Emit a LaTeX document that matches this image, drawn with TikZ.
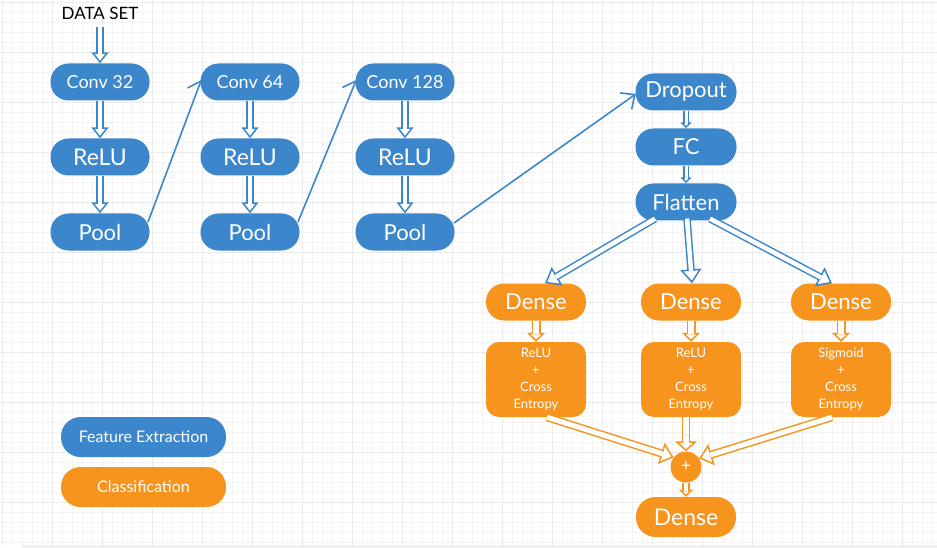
\documentclass[tikz,border=0pt]{standalone}
\usepackage{fontspec}
\setmainfont{Lato}
\usetikzlibrary{arrows.meta,calc}
\definecolor{cblue}{HTML}{3C87CB}
\definecolor{corange}{HTML}{F7941E}
\definecolor{gridc}{HTML}{F3F3F4}
\definecolor{gridd}{HTML}{EBEBEC}
% hollow arrow: color, shaft inner width, head length, head width, from, to
\newcommand\harrow[6]{%
 \draw[line width=#2, white, -{Triangle[color=#1, fill=white, line width=1.5pt, length=#3, width=#4]}] (#5) -- (#6);
 \draw[#1, line width=1.5pt, double=white, double distance=#2, shorten >=#3-1.5pt] (#5) -- (#6);
}
\begin{document}
\begin{tikzpicture}[x=1pt,y=-1pt,
 bpill/.style={rectangle, rounded corners=18pt, fill=cblue, text=white, minimum width=99pt, minimum height=37pt, inner sep=0pt, font=\fontsize{22}{25}\selectfont},
 opill/.style={bpill, fill=corange},
 obox/.style={rectangle, rounded corners=13pt, fill=corange, text=white, minimum width=100pt, minimum height=75pt, inner sep=0pt, align=center, font=\fontsize{13}{17}\selectfont},
 conn/.style={cblue, line width=1.6pt, -{Straight Barb[length=11pt,width=20pt]}},
 convf/.style={font=\fontsize{18}{21}\selectfont},
]
\useasboundingbox (0,0) rectangle (937,548);
\fill[white] (0,0) rectangle (937,548);
\draw[gridc, line width=0.5pt, step=10pt, shift={(2,2)}] (-2,-2) grid (935,543);
\draw[gridd, line width=0.5pt, step=50pt, shift={(2,2)}] (-2,-2) grid (935,543);
\fill[gray!12] (22,545) rectangle (937,548);

% feature extraction
\node[font=\fontsize{17}{20}\selectfont] (ds) at (100,13) {DATA SET};
\node[bpill, convf] (c1) at (100,82) {Conv 32};
\node[bpill, font=\fontsize{23}{26}\selectfont] (r1) at (100,157) {ReLU};
\node[bpill] (p1) at (100,232) {Pool};
\node[bpill, convf] (c2) at (250,82) {Conv 64};
\node[bpill, font=\fontsize{23}{26}\selectfont] (r2) at (250,157) {ReLU};
\node[bpill] (p2) at (250,232) {Pool};
\node[bpill, convf] (c3) at (405,82) {Conv 128};
\node[bpill, font=\fontsize{23}{26}\selectfont] (r3) at (405,157) {ReLU};
\node[bpill] (p3) at (405,232) {Pool};
\node[bpill, minimum width=101pt] (dr) at (686,92) {Dropout};
\node[bpill, minimum width=101pt] (fc) at (686,147) {FC};
\node[bpill, minimum width=101pt] (fl) at (686,202) {Flatten};

% classification
\node[opill, minimum width=100pt] (d1) at (536,302) {Dense};
\node[opill, minimum width=100pt] (d2) at (691,302) {Dense};
\node[opill, minimum width=100pt] (d3) at (841,302) {Dense};
\node[obox] (b1) at (536,379.5) {ReLU\\+\\Cross\\Entropy};
\node[obox] (b2) at (691,379.5) {ReLU\\+\\Cross\\Entropy};
\node[obox] (b3) at (841,379.5) {Sigmoid\\+\\Cross\\Entropy};
\node[circle, fill=corange, text=white, minimum size=31pt, inner sep=0pt, font=\fontsize{17}{17}\selectfont] (pl) at (686,467) {+};
\node[opill, minimum width=100pt, minimum height=40pt, rounded corners=19.5pt, font=\fontsize{23}{26}\selectfont] (fd) at (686,517) {Dense};

% legend
\node[bpill, minimum width=165pt, minimum height=40pt, rounded corners=19.5pt, font=\fontsize{16}{19}\selectfont] (lf) at (143.5,437) {Feature Extraction};
\node[opill, minimum width=165pt, minimum height=40pt, rounded corners=19.5pt, font=\fontsize{16}{19}\selectfont] (lc) at (143.5,487) {Classification};

% blue hollow arrows
\harrow{cblue}{4.5pt}{11pt}{17pt}{$(ds.south)+(0,4)$}{c1.north}
\harrow{cblue}{4.5pt}{11pt}{17pt}{c1.south}{r1.north}
\harrow{cblue}{4.5pt}{11pt}{17pt}{r1.south}{p1.north}
\harrow{cblue}{4.5pt}{11pt}{17pt}{c2.south}{r2.north}
\harrow{cblue}{4.5pt}{11pt}{17pt}{r2.south}{p2.north}
\harrow{cblue}{4.5pt}{11pt}{17pt}{c3.south}{r3.north}
\harrow{cblue}{4.5pt}{11pt}{17pt}{r3.south}{p3.north}
\harrow{cblue}{3pt}{6pt}{11pt}{dr.south}{fc.north}
\harrow{cblue}{3pt}{6pt}{11pt}{fc.south}{fl.north}
\harrow{cblue}{4.5pt}{14pt}{21pt}{$(fl.south)+(-31,-2)$}{$(d1.north)+(9,0)$}
\harrow{cblue}{4.5pt}{14pt}{21pt}{$(fl.south)+(1,-2)$}{$(d2.north)+(1,0)$}
\harrow{cblue}{4.5pt}{14pt}{21pt}{$(fl.south)+(24,-2)$}{$(d3.north)+(-9,0)$}

% orange hollow arrows
\harrow{corange}{6pt}{9pt}{18pt}{d1.south}{b1.north}
\harrow{corange}{6pt}{9pt}{18pt}{d2.south}{b2.north}
\harrow{corange}{6pt}{9pt}{18pt}{d3.south}{b3.north}
\harrow{corange}{5pt}{13pt}{22pt}{$(b1.south)+(11,0)$}{pl.142}
\harrow{corange}{5.5pt}{10pt}{22pt}{pl.north |- b2.south}{pl.north}
\harrow{corange}{5pt}{13pt}{22pt}{$(b3.south)+(-9,0)$}{pl.33}
\harrow{corange}{4.5pt}{7pt}{14pt}{pl.south}{fd.north}

% thin connectors
\draw[conn] ($(p1.center)+(48,-10)$) -- ($(c2.west)+(1,-2)$);
\draw[conn] ($(p2.center)+(48,-10)$) -- ($(c3.west)+(1,-2)$);
\draw[conn] ($(p3.center)+(49,-9)$) -- ($(dr.west)+(0.5,2)$);
\end{tikzpicture}
\end{document}
